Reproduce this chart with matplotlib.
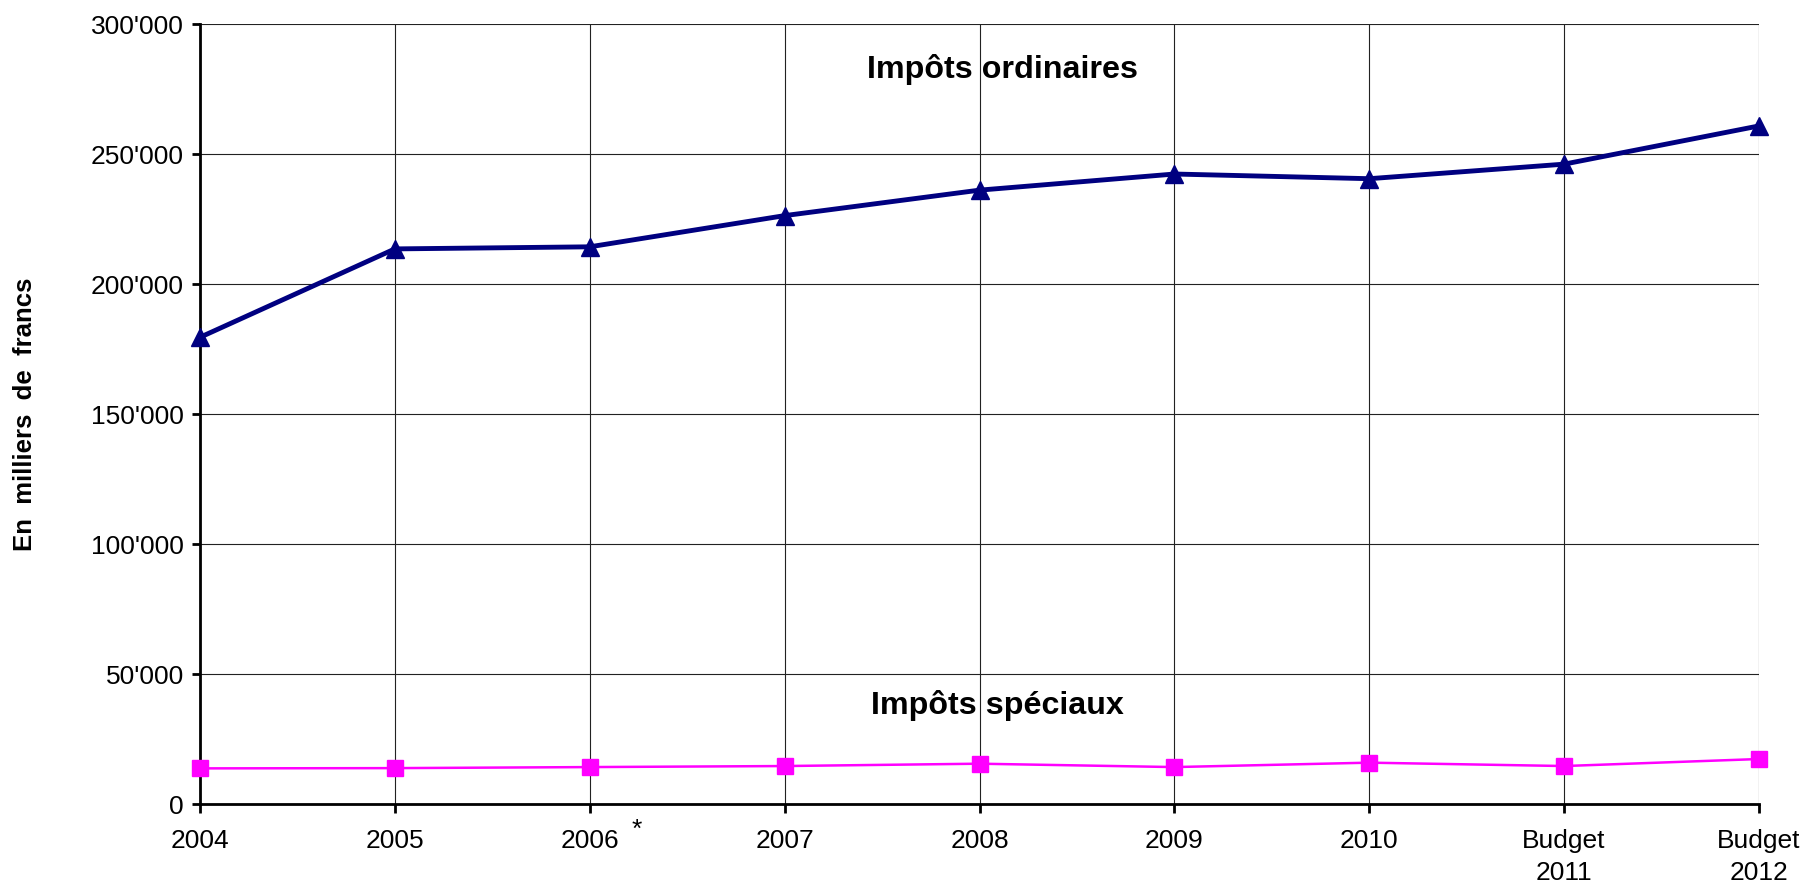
import matplotlib
matplotlib.use('Agg')
import matplotlib.pyplot as plt

plt.rcParams['font.family'] = ['Liberation Sans', 'DejaVu Sans']

# data (milliers de francs)
years = ['2004', '2005', '2006', '2007', '2008', '2009', '2010', 'Budget\n2011', 'Budget\n2012']
impots_ordinaires = [179500, 213500, 214300, 226300, 236100, 242300, 240500, 246100, 260800]
impots_speciaux = [13700, 13800, 14200, 14600, 15500, 14200, 15900, 14600, 17300]
yticks = [0, 50000, 100000, 150000, 200000, 250000, 300000]

W, H = 1807, 888
fig = plt.figure(figsize=(W / 100, H / 100), dpi=100)
ax = fig.add_axes([200 / W, (H - 804) / H, 1559 / W, 780 / H])

x = list(range(len(years)))
ax.plot(x, impots_ordinaires, color='#000080', lw=3.5, marker='^', ms=13.5,
        clip_on=False, zorder=5)
ax.plot(x, impots_speciaux, color='#FF00FF', lw=1.8, marker='s', ms=11.5,
        clip_on=False, zorder=5)

ax.set_xlim(0, len(years) - 1)
ax.set_ylim(0, 300000)
ax.set_xticks(x)
ax.set_xticklabels(years, fontsize=19, linespacing=1.42)
ax.set_yticks(yticks)
ax.set_yticklabels([f'{v:,}'.replace(',', "'") for v in yticks], fontsize=19)

ax.grid(True, color='#222222', lw=0.8)
ax.set_axisbelow(True)
for s in ['top', 'right']:
    ax.spines[s].set_visible(False)
for s in ['left', 'bottom']:
    ax.spines[s].set_linewidth(2)
ax.tick_params(axis='both', direction='out', width=2)
ax.tick_params(axis='x', length=6.5, pad=11.5)
ax.tick_params(axis='y', length=5.5, pad=6)

ax.text(4.12, 282500, 'Impôts ordinaires', ha='center', va='center',
        fontsize=23.2, fontweight='bold')
ax.text(4.09, 38000, 'Impôts spéciaux', ha='center', va='center',
        fontsize=23.2, fontweight='bold')

# asterisk next to 2006
ax.annotate('*', xy=(2, 0), xytext=(34, -10), textcoords='offset points',
            ha='center', va='top', fontsize=19)

fig.text(25 / W, 1 - 414 / H, 'En  milliers  de  francs', rotation=90,
         ha='center', va='center', fontsize=18.5, fontweight='bold')

fig.savefig('out.png', dpi=100)
